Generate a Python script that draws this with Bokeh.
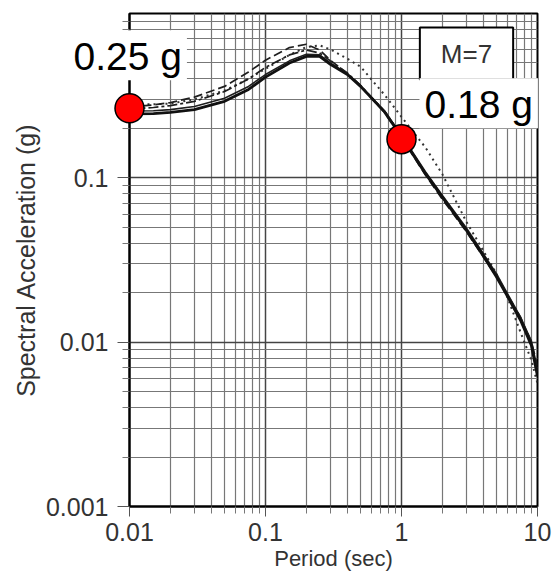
import math
from bokeh.plotting import figure
from bokeh.models import (ColumnDataSource, FixedTicker, CustomJSTickFormatter, Label,
                          Range1d, GridBox, Column)
from bokeh.embed import file_html
from bokeh.resources import INLINE

# ---------------- data ----------------
periods = [0.01, 0.015, 0.02, 0.03, 0.05, 0.075, 0.1, 0.15, 0.2, 0.25, 0.3, 0.4,
           0.5, 0.75, 1.0, 1.5, 2.0, 3.0, 4.0, 5.0, 6.0, 7.5, 9.0, 10.0]

sa_solid_thick = [0.245, 0.246, 0.25, 0.26, 0.292, 0.345, 0.41, 0.50, 0.548, 0.548, 0.49, 0.425,
                  0.36, 0.252, 0.178, 0.106, 0.076, 0.048, 0.0334, 0.0249, 0.0191, 0.0136, 0.0096, 0.0062]
sa_solid_thin = [0.255, 0.256, 0.26, 0.272, 0.305, 0.36, 0.425, 0.515, 0.565, 0.56, 0.50, 0.43,
                 0.365, 0.255, 0.182, 0.109, 0.078, 0.0495, 0.0345, 0.026, 0.0198, 0.0142, 0.0102, 0.0068]
sa_dashed = [0.27, 0.278, 0.287, 0.31, 0.36, 0.44, 0.52, 0.62, 0.65, 0.60, 0.52, 0.43,
             0.36, 0.25, 0.176, 0.104, 0.074, 0.047, 0.033, 0.025, 0.0192, 0.014, 0.0101, 0.0072]
sa_dashdot = [0.262, 0.268, 0.275, 0.292, 0.335, 0.40, 0.47, 0.56, 0.60, 0.575, 0.515, 0.435,
              0.365, 0.255, 0.18, 0.107, 0.077, 0.0485, 0.034, 0.0255, 0.0195, 0.0142, 0.0099, 0.0066]
sa_dotted = [0.28, 0.28, 0.283, 0.30, 0.34, 0.40, 0.46, 0.56, 0.625, 0.64, 0.605, 0.53,
             0.475, 0.32, 0.235, 0.153, 0.105, 0.054, 0.036, 0.026, 0.0188, 0.0115, 0.0078, 0.0056]

point_periods = [0.01, 1.0]
point_sa = [0.265, 0.172]
point_labels = ["0.25 g", "0.18 g"]

x_ticks = [0.01, 0.1, 1, 10]
y_ticks = [0.001, 0.01, 0.1]
x_limits = (0.01, 10)
y_limits = (0.001, 1)
magnitude_text = "M=7"
x_title = "Period (sec)"
y_title = "Spectral Acceleration (g)"

# minor ticks at 2..9 of each decade
x_minor = [m * d for d in [0.01, 0.1, 1] for m in range(2, 10)]
y_minor = [m * d for d in [0.001, 0.01, 0.1] for m in range(2, 10)]

# ---------------- layout constants ----------------
W, H = 552, 578
FL, FR, FT, FB = 129, 537, 13, 506   # frame edges in canvas pixels
FONT = "Liberation Sans"

p = figure(width=W, height=H, x_axis_type="log", y_axis_type="log",
           x_range=Range1d(*x_limits), y_range=Range1d(*y_limits),
           output_backend="svg", toolbar_location=None,
           min_border_left=FL, min_border_right=W - FR, min_border_top=FT, min_border_bottom=H - FB)

p.background_fill_color = "white"
p.border_fill_color = "white"
p.outline_line_color = "black"
p.outline_line_width = 2

fmt = CustomJSTickFormatter(code="return tick.toString();")
for ax, ticks, minor in ((p.xaxis[0], x_ticks, x_minor), (p.yaxis[0], y_ticks, y_minor)):
    ax.ticker = FixedTicker(ticks=ticks, minor_ticks=minor)
    ax.formatter = fmt
    ax.major_label_text_font = FONT
    ax.major_label_text_font_size = "25px"
    ax.major_label_text_color = "#333333"
    ax.axis_label_text_font = FONT
    ax.axis_label_text_font_style = "normal"
    ax.axis_label_text_color = "#333333"
    ax.axis_line_color = "black"
    ax.axis_line_width = 2
    ax.major_tick_line_color = "#555555"
    ax.minor_tick_line_color = "#777777"
    ax.major_tick_in = 0
    ax.minor_tick_in = 0
    ax.minor_tick_out = 7

p.xaxis.major_tick_out = 10
p.xaxis.major_label_standoff = 6
p.yaxis.major_tick_out = 12
p.yaxis.major_label_standoff = 9

p.xaxis.axis_label = x_title
p.yaxis.axis_label = y_title
p.xaxis.axis_label_text_font_size = "22px"
p.yaxis.axis_label_text_font_size = "25px"
p.xaxis.axis_label_standoff = 2
p.yaxis.axis_label_standoff = 3

for g in (p.xgrid[0], p.ygrid[0]):
    g.grid_line_color = "#444444"
    g.grid_line_width = 1.5
    g.minor_grid_line_color = "#777777"
    g.minor_grid_line_width = 1.2

src = ColumnDataSource(dict(period=periods, thick=sa_solid_thick, thin=sa_solid_thin,
                            dashed=sa_dashed, dashdot=sa_dashdot, dotted=sa_dotted))

p.line("period", "dotted", source=src, line_color="#333333", line_width=2.0, line_dash="2 4")
p.line("period", "dashed", source=src, line_color="#1e1e1e", line_width=1.7, line_dash="9 4")
p.line("period", "dashdot", source=src, line_color="#1e1e1e", line_width=1.7, line_dash="10 3 3 3")
p.line("period", "thin", source=src, line_color="#1e1e1e", line_width=1.6)
p.line("period", "thick", source=src, line_color="#111111", line_width=2.8)

p.add_layout(Label(x=(FR - FL) - 71, y=(FB - FT) - 40, x_units="screen", y_units="screen",
                   text=magnitude_text,
                   text_font=FONT, text_font_size="26px", text_color="#333333",
                   text_align="center", text_baseline="middle", anchor="center",
                   background_fill_color="white", border_line_color="black", border_line_width=2,
                   padding=dict(left=21, right=21, top=11, bottom=11)))

# ---------------- overlay (same scales, frame = whole canvas, so nothing is clipped) ----------------
px_x = (math.log10(x_limits[1]) - math.log10(x_limits[0])) / (FR - FL)
px_y = (math.log10(y_limits[1]) - math.log10(y_limits[0])) / (FB - FT)
ox = Range1d(10 ** (math.log10(x_limits[0]) - FL * px_x), 10 ** (math.log10(x_limits[1]) + (W - FR) * px_x))
oy = Range1d(10 ** (math.log10(y_limits[0]) - (H - FB) * px_y), 10 ** (math.log10(y_limits[1]) + FT * px_y))

q = figure(width=W, height=H, x_axis_type="log", y_axis_type="log", x_range=ox, y_range=oy,
           x_axis_location=None, y_axis_location=None, min_border=0,
           output_backend="svg", toolbar_location=None)
q.title.visible = False
q.xgrid.visible = False
q.ygrid.visible = False
q.background_fill_color = None
q.border_fill_color = None
q.outline_line_color = None

pts = ColumnDataSource(dict(period=point_periods, sa=point_sa))
q.scatter("period", "sa", source=pts, size=29, fill_color="#ff0000", line_color="black", line_width=1.5)

label_offsets = [(-61, -28), (18, -11)]   # bottom-left corner of the white box relative to the point
for t, s, txt, (dx, dy) in zip(point_periods, point_sa, point_labels, label_offsets):
    q.add_layout(Label(x=t, y=s, text=txt, x_offset=dx, y_offset=-dy,
                       text_font=FONT, text_font_size="39px", text_color="black",
                       anchor="bottom_left", text_align="left", text_baseline="alphabetic",
                       background_fill_color="white",
                       padding=dict(left=5, right=5, top=5, bottom=2)))

# wrap the overlay so the grid does not align its frame with the main plot's frame
layout = GridBox(children=[(p, 0, 0), (Column(children=[q], width=W, height=H), 0, 0)])

open("out.html", "w").write(file_html(layout, INLINE))
